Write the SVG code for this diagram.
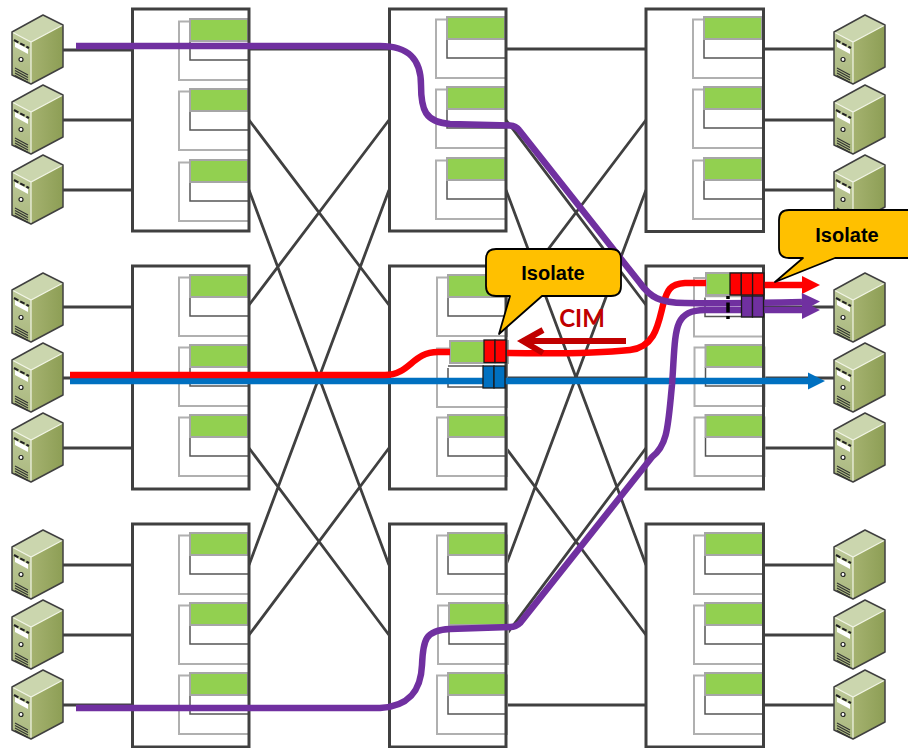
<svg xmlns="http://www.w3.org/2000/svg" width="908" height="748" viewBox="0 0 908 748">
<style>
.box{fill:#fff}
.edge{fill:none;stroke:#404040;stroke-width:3}
.link{stroke:#404040;stroke-width:2.800;fill:none}
.flow{fill:none;stroke-width:6.500}
.cell{stroke:#1a1a1a;stroke-width:1.300}
.call{fill:#ffc000;stroke:#000;stroke-width:1.800;stroke-linejoin:round}
.lbl{font-family:"Liberation Sans",Arial,sans-serif;font-weight:bold;font-size:20px;text-anchor:middle;fill:#000}
</style>
<defs>
<linearGradient id="rf" x1="0" x2="1" y1="0" y2="0"><stop offset="0" stop-color="#a5b270"/><stop offset="1" stop-color="#8d9e55"/></linearGradient>
<linearGradient id="lf" x1="0" x2="0" y1="0" y2="1"><stop offset="0" stop-color="#c4cfa2"/><stop offset="1" stop-color="#aab87e"/></linearGradient>
<g id="srv">
<path d="M0,17L31,0L51,10V52L19,69L0,60Z" fill="url(#lf)"/>
<path d="M0,17L31,0L51,10L19,27Z" fill="#cbd6ae"/>
<path d="M19,27L51,10V52L19,69Z" fill="url(#rf)"/>
<path d="M0,17L19,27L51,10M19,27V69" fill="none" stroke="#f2f5e6" stroke-width="1.200"/>
<path d="M0,17L31,0L51,10V52L19,69L0,60Z" fill="none" stroke="#404040" stroke-width="1.500" stroke-linejoin="round"/>
<path d="M3,27L16,34V39L3,32Z" fill="#fff"/>
<path d="M2,25L17,33" stroke="#222" stroke-width="2" stroke-dasharray="5 2"/>
<circle cx="9" cy="44.500" r="2" fill="#fff" stroke="#222" stroke-width="1.200"/>
<path d="M3,53L16,60M3,55.500L16,62.500M3,58L16,65M3,60.500L16,67.500" stroke="#333" stroke-width="1.100" fill="none"/>
</g>
<g id="base">
<rect x="-11" y="2.500" width="70" height="58.500" fill="none" stroke="#b0b0b0" stroke-width="2"/>
<path d="M0,22V41H58" fill="none" stroke="#555" stroke-width="1.500"/>
</g>
<rect id="grn" x="0" y="0" width="58" height="22" fill="#92d050" stroke="#a6a6a6" stroke-width="2"/>
<g id="card"><use href="#base"/><use href="#grn"/></g>
<marker id="mr" markerUnits="userSpaceOnUse" markerWidth="20" markerHeight="20" refX="0" refY="10" orient="auto" overflow="visible"><path d="M0,1L18,10L0,19Z" fill="#ff0000"/></marker>
<marker id="mp" markerUnits="userSpaceOnUse" markerWidth="20" markerHeight="20" refX="0" refY="10" orient="auto" overflow="visible"><path d="M0,1L18,10L0,19Z" fill="#7030a0"/></marker>
<marker id="mb" markerUnits="userSpaceOnUse" markerWidth="20" markerHeight="20" refX="0" refY="10" orient="auto" overflow="visible"><path d="M0,1.500L17,10L0,18.500Z" fill="#0070c0"/></marker>
</defs>

<g id="connectors">
<path class="link" d="M55,50H132M55,120H132M55,190H132M55,307H132M55,378H132M55,448H132M55,565H132M55,635H132M55,705H132"/>
<path class="link" d="M763,49H840M763,120H840M763,190H840M763,307H840M763,378H840M763,448H840M763,565H840M763,635H840M763,705H840"/>
<path class="link" d="M249,49H389M249,378H389M249,120L389,305M249,190L389,565M249,305L389,120M249,448L389,635M249,565L389,190M249,635L389,448"/>
<path class="link" d="M506,49H646M506,378H646M506,705H646M506,120L646,305M506,190L646,565M506,305L646,120M506,448L646,635M506,565L646,190M506,635L646,448"/>
</g>

<g id="sw-1-1"><rect class="box" x="132.500" y="9" width="116.500" height="222"/><use href="#card" x="190" y="19"/><use href="#card" x="190" y="89"/><use href="#card" x="190" y="160"/><rect class="edge" x="132.500" y="9" width="116.500" height="222"/></g>
<g id="sw-1-2"><rect class="box" x="389.500" y="9" width="116.500" height="222"/><use href="#card" x="447" y="17"/><use href="#card" x="447" y="87"/><use href="#card" x="447" y="158"/><rect class="edge" x="389.500" y="9" width="116.500" height="222"/></g>
<g id="sw-1-3"><rect class="box" x="646" y="9" width="117.500" height="222.500"/><use href="#card" x="704" y="17"/><use href="#card" x="704" y="87"/><use href="#card" x="704" y="158"/><rect class="edge" x="646" y="9" width="117.500" height="222.500"/></g>
<g id="sw-2-1"><rect class="box" x="132.500" y="266" width="116.500" height="223"/><use href="#card" x="190" y="275"/><use href="#card" x="190" y="345"/><use href="#card" x="190" y="415"/><rect class="edge" x="132.500" y="266" width="116.500" height="223"/></g>
<g id="sw-2-2"><rect class="box" x="389.500" y="266" width="116.500" height="223"/><use href="#card" x="448" y="275"/><use href="#base" x="448" y="346"/><path d="M448,366H484" stroke="#555" stroke-width="1.500"/><use href="#grn" x="450" y="341"/><use href="#card" x="448" y="415"/><rect class="edge" x="389.500" y="266" width="116.500" height="223"/></g>
<g id="sw-2-3"><rect class="box" x="646" y="266" width="117.500" height="223"/><use href="#base" x="705" y="275.500"/><path d="M705,296.500H741" stroke="#aaa" stroke-width="1.500"/><use href="#grn" x="706" y="273"/><use href="#card" x="705.500" y="345"/><use href="#card" x="705.500" y="415"/><rect class="edge" x="646" y="266" width="117.500" height="223"/></g>
<g id="sw-3-1"><rect class="box" x="132.500" y="524" width="116.500" height="223"/><use href="#card" x="190" y="533"/><use href="#card" x="190" y="603"/><use href="#card" x="190" y="673"/><rect class="edge" x="132.500" y="524" width="116.500" height="223"/></g>
<g id="sw-3-2"><rect class="box" x="389.500" y="524" width="116.500" height="223"/><use href="#card" x="448" y="533"/><use href="#card" x="449" y="603"/><use href="#card" x="448" y="673"/><rect class="edge" x="389.500" y="524" width="116.500" height="223"/></g>
<g id="sw-3-3"><rect class="box" x="646" y="524" width="117.500" height="223"/><use href="#card" x="705" y="533"/><use href="#card" x="705" y="603"/><use href="#card" x="705" y="673"/><rect class="edge" x="646" y="524" width="117.500" height="223"/></g>

<g id="srv-l1"><use href="#srv" x="12" y="15"/></g>
<g id="srv-l2"><use href="#srv" x="12" y="85"/></g>
<g id="srv-l3"><use href="#srv" x="12" y="155"/></g>
<g id="srv-l4"><use href="#srv" x="12" y="273"/></g>
<g id="srv-l5"><use href="#srv" x="12" y="343"/></g>
<g id="srv-l6"><use href="#srv" x="12" y="413"/></g>
<g id="srv-l7"><use href="#srv" x="12" y="530"/></g>
<g id="srv-l8"><use href="#srv" x="12" y="600"/></g>
<g id="srv-l9"><use href="#srv" x="12" y="670"/></g>
<g id="srv-r1"><use href="#srv" x="834" y="15"/></g>
<g id="srv-r2"><use href="#srv" x="834" y="85"/></g>
<g id="srv-r3"><use href="#srv" x="834" y="155"/></g>
<g id="srv-r4"><use href="#srv" x="834" y="273"/></g>
<g id="srv-r5"><use href="#srv" x="834" y="343"/></g>
<g id="srv-r6"><use href="#srv" x="834" y="413"/></g>
<g id="srv-r7"><use href="#srv" x="834" y="530"/></g>
<g id="srv-r8"><use href="#srv" x="834" y="600"/></g>
<g id="srv-r9"><use href="#srv" x="834" y="670"/></g>

<g id="flows">
<path class="flow" stroke="#0070c0" d="M70,381H808" marker-end="url(#mb)"/>
<path class="flow" stroke="#ff0000" d="M70,375H385C410,375 412,352 438,352H450"/>
<path class="flow" stroke="#ff0000" d="M507,353C560,354 600,353 630,350C655,347 658,325 663,305C667,290 670,284 685,283H706"/>
<path class="flow" stroke="#ff0000" d="M763,285H802" marker-end="url(#mr)"/>
<path class="flow" stroke="#7030a0" d="M76,46H380C410,46 421,60 421,85C421,110 425,122 450,124L510,125.500Q516,126 519,130L640,283C650,297 660,303 685,303C720,303.500 760,303 802,302" marker-end="url(#mp)"/>
<path class="flow" stroke="#7030a0" d="M76,708H380C410,706 421,690 422,665C423,640 425,630 450,629L510,627Q516,627 520,623L652,457C668,445 668,425 672,385C676,330 672,310 705,310H802" marker-end="url(#mp)"/>
</g>

<g id="queue-a">
<rect class="cell" x="484" y="340" width="11" height="22.500" fill="#ff0000"/><rect class="cell" x="495" y="340" width="11" height="22.500" fill="#ff0000"/>
<rect class="cell" x="483" y="366" width="11" height="22" fill="#0070c0"/><rect class="cell" x="494" y="366" width="11" height="22" fill="#0070c0"/>
</g>
<g id="queue-b">
<rect class="cell" x="730" y="273" width="11.300" height="22" fill="#ff0000"/><rect class="cell" x="741.300" y="273" width="11.300" height="22" fill="#ff0000"/><rect class="cell" x="752.600" y="273" width="11.300" height="22" fill="#ff0000"/>
<rect class="cell" x="741.500" y="296" width="11" height="21" fill="#7030a0"/><rect class="cell" x="752.500" y="296" width="11" height="21" fill="#7030a0"/>
<path d="M728,296V322" stroke="#000" stroke-width="3.500" stroke-dasharray="3 3.500 10 3.500 3 3"/>
</g>

<g id="cim">
<path d="M626,341H524M543,330L523,341L543,353" fill="none" stroke="#c00000" stroke-width="6"/>
<text x="582" y="327" font-family="Lato,'Open Sans',sans-serif" font-weight="bold" font-size="24" text-anchor="middle" fill="#c00000">CIM</text>
</g>

<g id="callout-1">
<path class="call" d="M496,249H611Q621,249 621,259V286Q621,296 611,296H542L499,334L510,296H496Q486,296 486,286V259Q486,249 496,249Z"/>
<text class="lbl" x="553" y="280">Isolate</text>
</g>
<g id="callout-2">
<path class="call" d="M789,210H912V258H835L775,282L803,258H789Q779,258 779,248V220Q779,210 789,210Z"/>
<text class="lbl" x="847" y="242">Isolate</text>
</g>
</svg>
